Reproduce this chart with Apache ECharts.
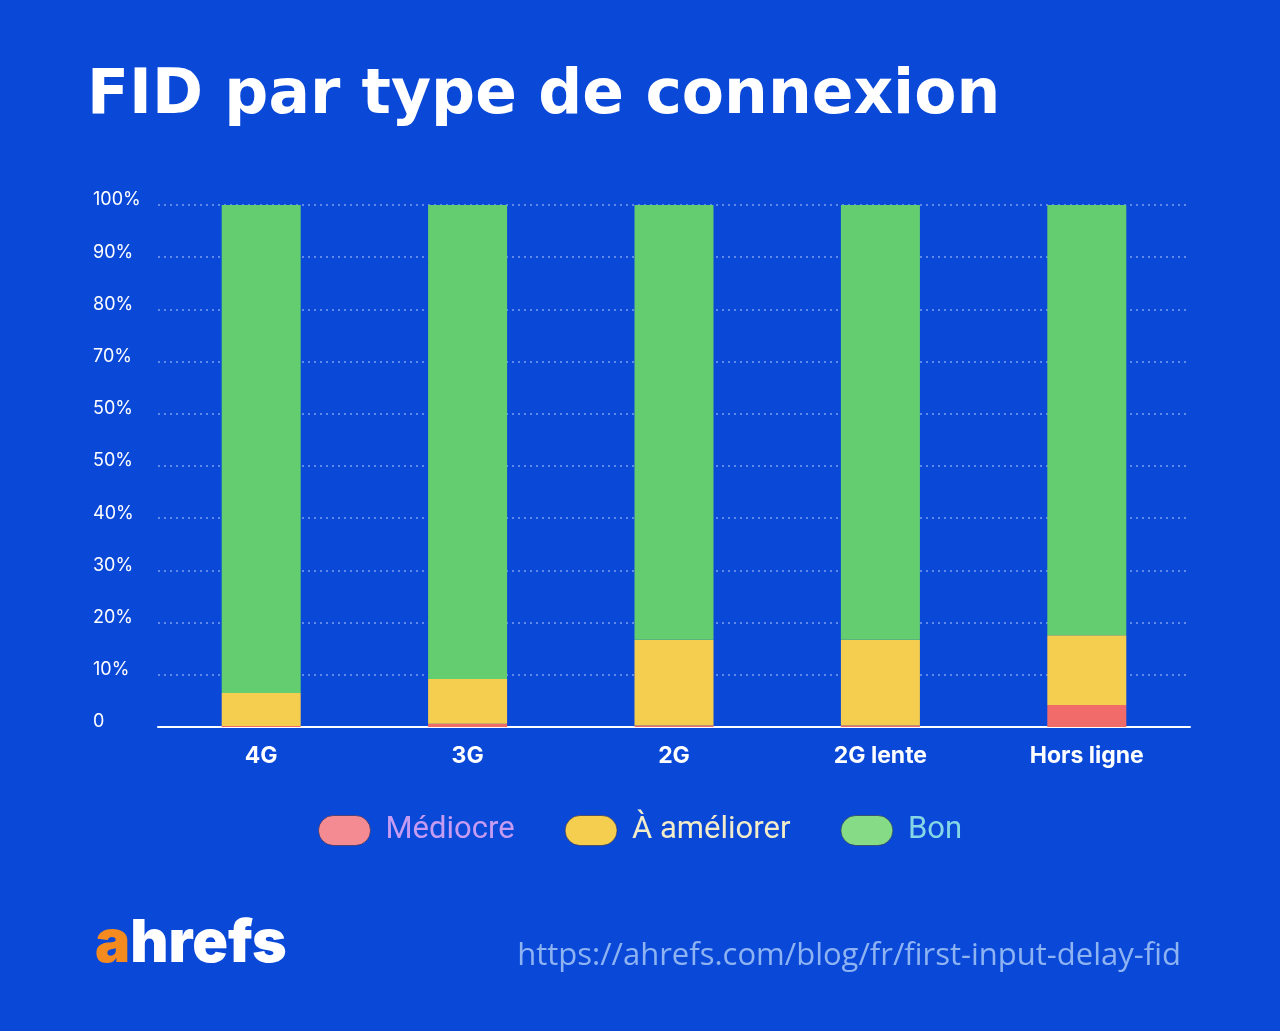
<!DOCTYPE html>
<html><head><meta charset="utf-8">
<script src="https://cdn.jsdelivr.net/npm/echarts@6/dist/echarts.min.js"></script>
<style>html,body{margin:0;padding:0;background:#0a48d8;}#c{width:1280px;height:1031px;}</style>
</head><body><div id="c"></div>
<script>
const categories = ['4G', '3G', '2G', '2G lente', 'Hors ligne'];
const mediocre = [0.2, 0.6, 0.3, 0.3, 4.2];
const ameliorer = [6.3, 8.6, 16.4, 16.4, 13.4];
const bon = [93.5, 90.8, 83.3, 83.3, 82.4];
const yTickLabels = ['0', '10%', '20%', '30%', '40%', '50%', '50%', '70%', '80%', '90%', '100%'];
const seriesNames = ['Médiocre', 'À améliorer', 'Bon'];

const colors = ['#f26b6b', '#f5cd4f', '#63cd6f'];
const legendColors = ['#f48a92', '#f5cd4f', '#86dc86'];
const legendText = ['#c69cf2', '#f2ecc8', '#86d6e6'];
const pill = 'path://M15,0 L37,0 A15,15 0 0 1 37,30 L15,30 A15,15 0 0 1 15,0 Z';

const chart = echarts.init(document.getElementById('c'));
chart.setOption({
  backgroundColor: '#0a48d8',
  animation: false,
  title: [
    { text: 'FID par type de connexion', left: 82, top: 61,
      textStyle: { color: '#ffffff', fontFamily: 'DejaVu Sans', fontWeight: 'bold', fontSize: 61.5 } },
    { text: '{a|a}{b|hrefs}', left: 90, top: 910,
      textStyle: { rich: {
        a: { color: '#f58a1f', fontFamily: 'Inter', fontWeight: 900, fontSize: 59 },
        b: { color: '#ffffff', fontFamily: 'Inter', fontWeight: 900, fontSize: 59 } } } },
    { text: 'https://ahrefs.com/blog/fr/first-input-delay-fid', right: 94, top: 936,
      textStyle: { color: '#8db3f2', fontFamily: 'Open Sans', fontWeight: 'normal', fontSize: 31 } }
  ],
  legend: {
    top: 810, left: 'center', itemWidth: 52, itemHeight: 30, itemGap: 50,
    icon: pill,
    data: seriesNames.map((n, i) => ({
      name: n,
      itemStyle: { color: legendColors[i], borderColor: 'rgba(40,40,80,0.6)', borderWidth: 1 },
      textStyle: { color: legendText[i], fontSize: 31, fontFamily: 'Roboto', padding: [0, 0, 0, 10] }
    }))
  },
  grid: { left: 158, right: 90, top: 205, bottom: 304 },
  xAxis: {
    type: 'category', data: categories,
    axisLine: { lineStyle: { color: '#ffffff', width: 2 } },
    axisTick: { show: false },
    axisLabel: { color: '#ffffff', fontWeight: 'bold', fontSize: 23, fontFamily: 'Inter', margin: 18 }
  },
  yAxis: {
    type: 'value', min: 0, max: 100, interval: 10,
    axisLine: { show: false }, axisTick: { show: false },
    splitLine: { lineStyle: { color: 'rgba(200,220,255,0.6)', type: [2, 4], width: 1.5 } },
    axisLabel: { color: '#ffffff', fontSize: 18, fontFamily: 'Inter', align: 'left', margin: 65,
      verticalAlign: 'bottom', lineHeight: 18, padding: [0, 0, -4, 0],
      formatter: (v) => yTickLabels[Math.round(v / 10)] }
  },
  series: seriesNames.map((n, i) => ({
    name: n, type: 'bar', stack: 'total', barWidth: 79,
    data: [mediocre, ameliorer, bon][i],
    itemStyle: { color: colors[i] }
  }))
});
</script></body></html>
